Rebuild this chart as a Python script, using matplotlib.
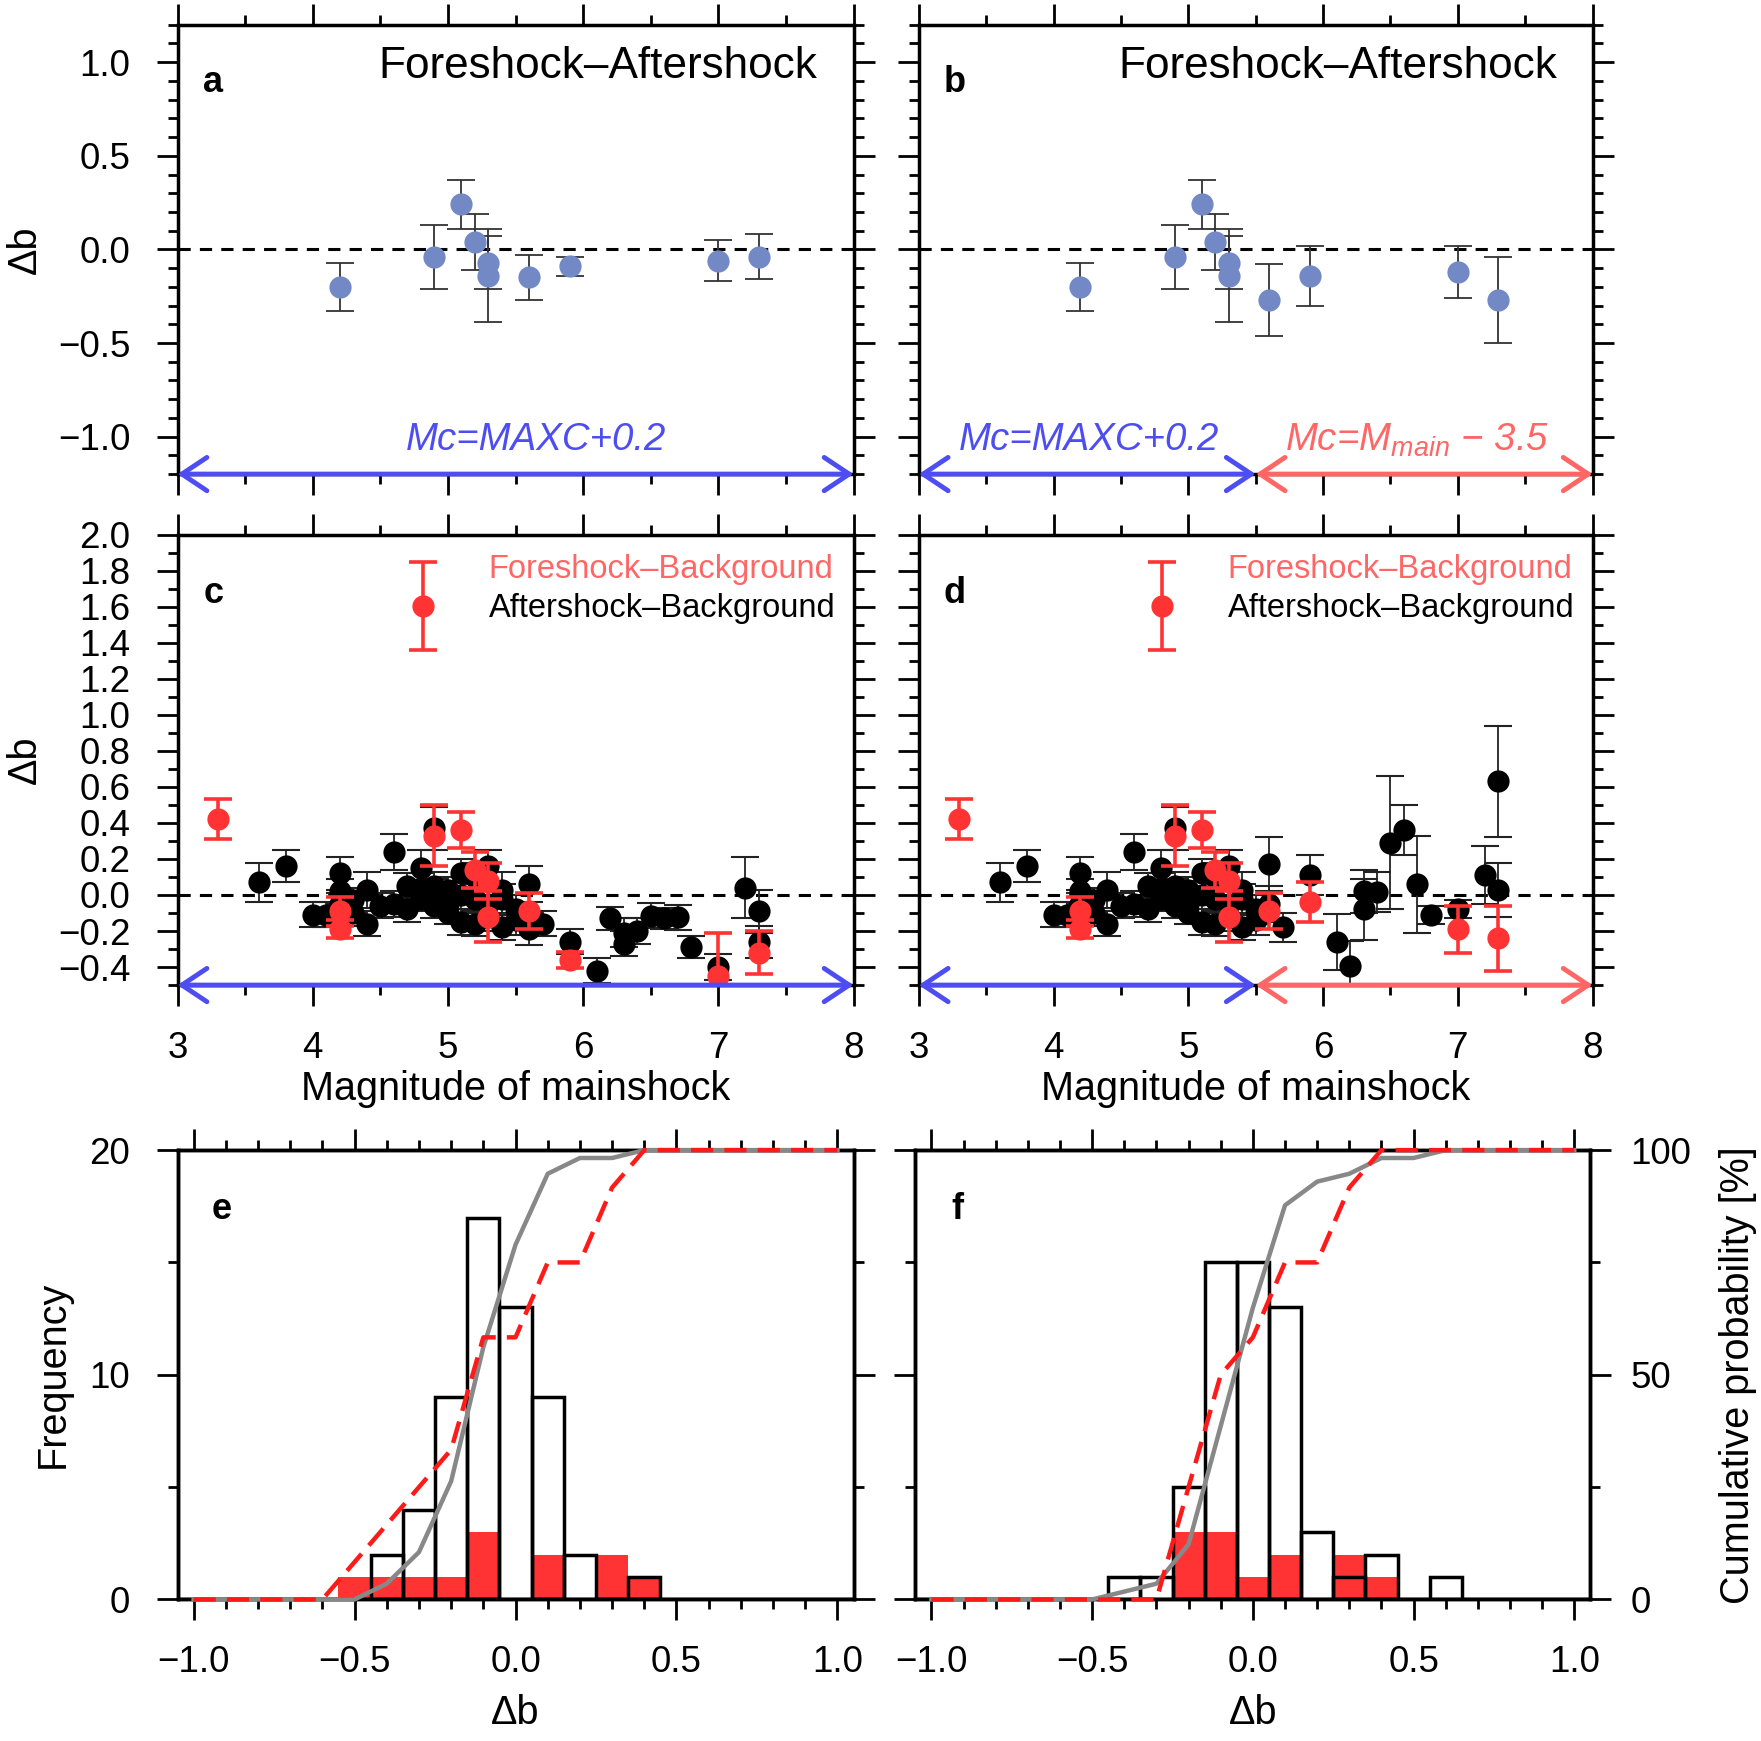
import numpy as np
import matplotlib
matplotlib.use("Agg")
import matplotlib.pyplot as plt
from matplotlib.ticker import MultipleLocator, FuncFormatter
from matplotlib.legend_handler import HandlerErrorbar
from matplotlib.container import ErrorbarContainer
from matplotlib.lines import Line2D

plt.rcParams['font.family'] = ['Liberation Sans', 'DejaVu Sans']
plt.rcParams['mathtext.fontset'] = 'custom'
plt.rcParams['mathtext.it'] = 'Liberation Sans:italic'
plt.rcParams['mathtext.rm'] = 'Liberation Sans'
plt.rcParams['axes.linewidth'] = 2.5

# ---- panel a / b : foreshock - aftershock
fa_mag_a = [4.2, 4.9, 5.1, 5.2, 5.3, 5.3, 5.6, 5.9, 7.0, 7.3]
fa_db_a = [-0.20, -0.04, 0.24, 0.04, -0.07, -0.14, -0.15, -0.09, -0.06, -0.04]
fa_err_a = [0.13, 0.17, 0.13, 0.15, 0.14, 0.25, 0.12, 0.05, 0.11, 0.12]

fa_mag_b = [4.2, 4.9, 5.1, 5.2, 5.3, 5.3, 5.6, 5.9, 7.0, 7.3]
fa_db_b = [-0.20, -0.04, 0.24, 0.04, -0.07, -0.14, -0.27, -0.14, -0.12, -0.27]
fa_err_b = [0.13, 0.17, 0.13, 0.15, 0.14, 0.25, 0.19, 0.16, 0.14, 0.23]

# ---- panel c / d : aftershock - background (black), M < 5.6 shared
ab_mag_low = [3.6, 3.8, 4.0, 4.1, 4.2, 4.2, 4.2, 4.3, 4.3, 4.4, 4.4, 4.5, 4.6, 4.6,
              4.7, 4.7, 4.8, 4.8, 4.8, 4.9, 4.9, 4.9, 4.9, 5.0, 5.0, 5.0, 5.1, 5.1,
              5.1, 5.2, 5.2, 5.2, 5.3, 5.3, 5.3, 5.4, 5.4, 5.4, 5.5, 5.5]
ab_db_low = [0.07, 0.16, -0.11, -0.11, 0.12, 0.02, -0.05, -0.10, -0.03, 0.03, -0.16, -0.06, 0.24, -0.05,
             -0.08, 0.05, 0.15, 0.04, -0.02, 0.37, 0.05, 0.01, -0.06, -0.10, 0.03, -0.05, 0.12, -0.15,
             0.00, -0.16, -0.02, 0.10, 0.16, -0.05, -0.12, 0.03, -0.02, -0.18, -0.08, -0.14]
ab_err_low = [0.11, 0.09, 0.07, 0.07, 0.09, 0.07, 0.06, 0.07, 0.07, 0.10, 0.07, 0.07, 0.10, 0.07,
              0.07, 0.07, 0.10, 0.08, 0.07, 0.12, 0.08, 0.08, 0.07, 0.06, 0.07, 0.07, 0.08, 0.07,
              0.08, 0.07, 0.08, 0.08, 0.09, 0.08, 0.08, 0.10, 0.08, 0.07, 0.08, 0.08]

ab_mag_hi_c = [5.6, 5.6, 5.7, 5.9, 6.1, 6.2, 6.3, 6.3, 6.4, 6.5, 6.6, 6.7, 6.8, 7.0, 7.2, 7.3, 7.3]
ab_db_hi_c = [0.06, -0.19, -0.16, -0.26, -0.42, -0.13, -0.21, -0.27, -0.20, -0.115, -0.13, -0.125,
              -0.29, -0.40, 0.04, -0.09, -0.26]
ab_err_hi_c = [0.10, 0.09, 0.07, 0.07, 0.07, 0.065, 0.08, 0.07, 0.07, 0.07, 0.06, 0.07, 0.06, 0.07,
               0.17, 0.12, 0.09]

ab_mag_hi_d = [5.6, 5.6, 5.7, 5.9, 6.1, 6.2, 6.3, 6.3, 6.4, 6.5, 6.6, 6.7, 6.8, 7.0, 7.2, 7.3, 7.3]
ab_db_hi_d = [0.17, -0.05, -0.18, 0.11, -0.26, -0.395, 0.02, -0.08, 0.015, 0.29, 0.36, 0.06, -0.11,
              -0.08, 0.11, 0.03, 0.63]
ab_err_hi_d = [0.15, 0.10, 0.08, 0.11, 0.155, 0.14, 0.12, 0.17, 0.11, 0.37, 0.14, 0.27, 0.05, 0.05,
               0.16, 0.15, 0.31]

# foreshock - background (red)
fb_mag_low = [3.3, 4.2, 4.2, 4.9, 5.1, 5.2, 5.3, 5.3, 5.6]
fb_db_low = [0.42, -0.09, -0.19, 0.33, 0.36, 0.14, 0.08, -0.12, -0.09]
fb_err_low = [0.11, 0.08, 0.05, 0.17, 0.10, 0.10, 0.10, 0.14, 0.10]

fb_mag_hi_c = [5.9, 7.0, 7.3]
fb_db_hi_c = [-0.36, -0.45, -0.32]
fb_err_hi_c = [0.045, 0.24, 0.12]

fb_mag_hi_d = [5.9, 7.0, 7.3]
fb_db_hi_d = [-0.04, -0.19, -0.24]
fb_err_hi_d = [0.11, 0.13, 0.18]

# ---- panel e / f : histograms of delta b
hist_bins = [-1.0, -0.9, -0.8, -0.7, -0.6, -0.5, -0.4, -0.3, -0.2, -0.1, 0.0,
             0.1, 0.2, 0.3, 0.4, 0.5, 0.6, 0.7, 0.8, 0.9, 1.0]
e_after = [0, 0, 0, 0, 0, 0, 2, 4, 9, 17, 13, 9, 2, 0, 1, 0, 0, 0, 0, 0, 0]
e_fore = [0, 0, 0, 0, 0, 1, 1, 1, 1, 3, 0, 2, 0, 2, 1, 0, 0, 0, 0, 0, 0]
f_after = [0, 0, 0, 0, 0, 0, 1, 1, 5, 15, 15, 13, 3, 1, 2, 0, 1, 0, 0, 0, 0]
f_fore = [0, 0, 0, 0, 0, 0, 0, 0, 3, 3, 1, 2, 0, 2, 1, 0, 0, 0, 0, 0, 0]

BLUE_PT = '#7389c5'
ARROW_BLUE = '#4d4df2'
SALMON = '#ff6666'
RED = '#ff3333'

TICK_FS = 26.5
LAB_FS = 28.5


def mfmt(nd):
    def f(v, pos):
        if abs(v) < 1e-9:
            v = 0.0
        return f"{v:.{nd}f}".replace("-", "\u2212")
    return FuncFormatter(f)


def style(ax, xmaj, xmin, ymaj, ymin, right=True):
    ax.xaxis.set_major_locator(MultipleLocator(xmaj))
    ax.xaxis.set_minor_locator(MultipleLocator(xmin))
    ax.yaxis.set_major_locator(MultipleLocator(ymaj))
    ax.yaxis.set_minor_locator(MultipleLocator(ymin))
    ax.tick_params(which='both', direction='out', top=True, right=right,
                   width=2, labelsize=TICK_FS)
    ax.tick_params(axis='y', pad=19)
    ax.tick_params(axis='x', pad=18)
    ax.tick_params(which='major', length=15)
    ax.tick_params(which='minor', length=7.5)


def arrow(ax, x0, x1, y, color):
    ax.annotate('', xy=(x1, y), xytext=(x0, y), annotation_clip=False,
                arrowprops=dict(arrowstyle='<->,head_length=0.9,head_width=0.6',
                                color=color, lw=3.5, shrinkA=0, shrinkB=0,
                                mutation_scale=20), zorder=5)


fig = plt.figure(figsize=(17.61, 17.41), dpi=100)

ax_a = fig.add_axes([0.1008, 0.7277, 0.3839, 0.2581])
ax_b = fig.add_axes([0.5217, 0.7277, 0.3827, 0.2581])
ax_c = fig.add_axes([0.1008, 0.4342, 0.3839, 0.2587])
ax_d = fig.add_axes([0.5217, 0.4342, 0.3827, 0.2587])
ax_e = fig.add_axes([0.1008, 0.0813, 0.3839, 0.2581])
ax_f = fig.add_axes([0.5198, 0.0813, 0.3833, 0.2581])

# ---- top row
for ax, mag, db, err, letter in [(ax_a, fa_mag_a, fa_db_a, fa_err_a, 'a'),
                                 (ax_b, fa_mag_b, fa_db_b, fa_err_b, 'b')]:
    ax.axhline(0, color='k', lw=2.2, ls=(0, (4, 3)), zorder=1)
    ax.errorbar(mag, db, yerr=err, fmt='o', ms=16, color=BLUE_PT, mec='none',
                ecolor='#333333', elinewidth=1.3, capsize=10, capthick=1.3, zorder=3)
    ax.set_xlim(3, 8)
    ax.set_ylim(-1.2, 1.2)
    style(ax, 1, 0.5, 0.5, 0.1)
    ax.yaxis.set_major_formatter(mfmt(1))
    ax.tick_params(labelbottom=False)
    ax.text(0.053, 0.8725, letter, transform=ax.transAxes, fontsize=26,
            fontweight='bold', ha='center', va='center')
    ax.text(0.947, 0.9075, "Foreshock\u2013Aftershock", transform=ax.transAxes,
            fontsize=31.8, ha='right', va='center')

ax_a.set_ylabel("\u0394b", fontsize=LAB_FS, labelpad=10)
ax_b.tick_params(labelleft=False)

arrow(ax_a, 3, 8, -1.2, ARROW_BLUE)
ax_a.text(5.65, -1.02, "Mc=MAXC+0.2", color=ARROW_BLUE, fontsize=27.6,
          style='italic', ha='center', va='center')
arrow(ax_b, 3, 5.5, -1.2, ARROW_BLUE)
arrow(ax_b, 5.5, 8, -1.2, SALMON)
ax_b.text(4.26, -1.02, "Mc=MAXC+0.2", color=ARROW_BLUE, fontsize=27.6,
          style='italic', ha='center', va='center')
ax_b.text(6.70, -1.02, "Mc=M$_{main}$ \u2212 3.5", color=SALMON, fontsize=27.6,
          style='italic', ha='center', va='center')

# ---- middle row
for ax, mhi, dhi, ehi, rmhi, rdhi, rehi, letter in [
        (ax_c, ab_mag_hi_c, ab_db_hi_c, ab_err_hi_c, fb_mag_hi_c, fb_db_hi_c, fb_err_hi_c, 'c'),
        (ax_d, ab_mag_hi_d, ab_db_hi_d, ab_err_hi_d, fb_mag_hi_d, fb_db_hi_d, fb_err_hi_d, 'd')]:
    ax.axhline(0, color='k', lw=2.2, ls=(0, (4, 3)), zorder=1)
    ax.errorbar(ab_mag_low + mhi, ab_db_low + dhi, yerr=ab_err_low + ehi, fmt='o', ms=16,
                color='k', mec='none', ecolor='#222222', elinewidth=1.3, capsize=10,
                capthick=1.5, zorder=3)
    red = ax.errorbar(fb_mag_low + rmhi, fb_db_low + rdhi, yerr=fb_err_low + rehi, fmt='o',
                      ms=16, color=RED, mec='none', ecolor=RED, elinewidth=2.6, capsize=10,
                      capthick=2.6, zorder=4)
    ax.set_xlim(3, 8)
    ax.set_ylim(-0.5, 2.0)
    style(ax, 1, 0.5, 0.2, 0.1)
    ax.yaxis.set_major_formatter(mfmt(1))
    ax.set_xlabel("Magnitude of mainshock", fontsize=LAB_FS, labelpad=3)
    ax.text(0.053, 0.870, letter, transform=ax.transAxes, fontsize=26,
            fontweight='bold', ha='center', va='center')
    blank = Line2D([], [], linestyle='none', marker=None)
    leg = ax.legend([blank, red], ["Foreshock\u2013Background", "Aftershock\u2013Background"],
                    loc='upper right', bbox_to_anchor=(0.973, 0.957), frameon=False,
                    fontsize=23.5, handlelength=2.0, handletextpad=1.0, labelspacing=0.25,
                    borderaxespad=0, borderpad=0,
                    handler_map={ErrorbarContainer: HandlerErrorbar(xerr_size=0.5, yerr_size=1.35)})
    leg.get_texts()[0].set_color(SALMON)

ax_c.set_ylabel("\u0394b", fontsize=LAB_FS, labelpad=10)
ax_d.tick_params(labelleft=False)
arrow(ax_c, 3, 8, -0.5, ARROW_BLUE)
arrow(ax_d, 3, 5.5, -0.5, ARROW_BLUE)
arrow(ax_d, 5.5, 8, -0.5, SALMON)

# ---- bottom row
for ax, after, fore, letter in [(ax_e, e_after, e_fore, 'e'), (ax_f, f_after, f_fore, 'f')]:
    ax.bar(hist_bins, fore, width=0.1, color=RED, edgecolor='none', zorder=2)
    ax.bar(hist_bins, after, width=0.1, facecolor='none', edgecolor='k', linewidth=2.5, zorder=2.2)
    ax.set_xlim(-1.05, 1.05)
    ax.set_ylim(0, 20)
    style(ax, 0.5, 0.1, 10, 5, right=False)
    ax.xaxis.set_major_formatter(mfmt(1))
    ax.set_xlabel("\u0394b", fontsize=LAB_FS, labelpad=10)

    ax2 = ax.twinx()
    ax2.set_ylim(0, 100)
    ax2.yaxis.set_major_locator(MultipleLocator(50))
    ax2.yaxis.set_minor_locator(MultipleLocator(25))
    ax2.tick_params(which='both', direction='out', width=2, labelsize=TICK_FS, pad=14)
    ax2.tick_params(which='major', length=15)
    ax2.tick_params(which='minor', length=7.5)
    cdf_after = np.cumsum(after) / np.sum(after) * 100
    cdf_fore = np.cumsum(fore) / np.sum(fore) * 100
    ax2.plot(hist_bins, cdf_after, color='#888888', lw=3.2, zorder=3, clip_on=False)
    ax2.plot(hist_bins, cdf_fore, color='#ff1a1a', lw=3.2, dashes=(5, 2.5), zorder=3.5,
             clip_on=False)
    ax.text(0.066 if letter == 'e' else 0.0616, 0.8675, letter, transform=ax.transAxes,
            fontsize=26, fontweight='bold', ha='center', va='center')
    if letter == 'e':
        ax2.tick_params(labelright=False)
        ax.set_ylabel("Frequency", fontsize=LAB_FS, labelpad=13)
    else:
        ax.tick_params(labelleft=False)
        ax2.set_ylabel("Cumulative probability [%]", fontsize=LAB_FS, labelpad=20)

fig.savefig("out.png", dpi=100)
